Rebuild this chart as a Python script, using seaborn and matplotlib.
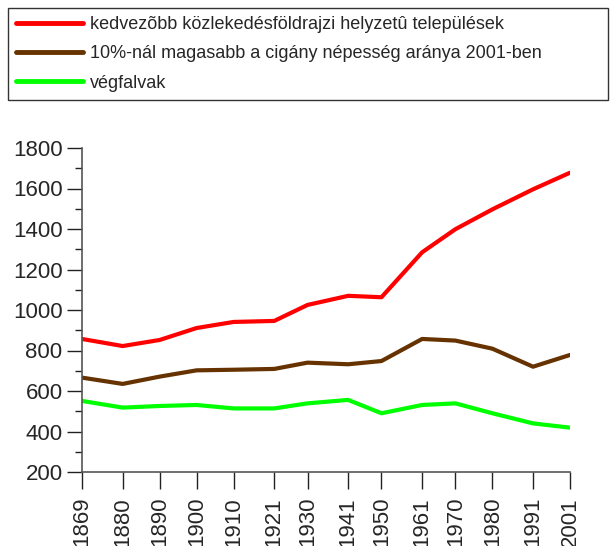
import matplotlib
matplotlib.use("Agg")
import matplotlib.pyplot as plt
from matplotlib.ticker import MultipleLocator
import seaborn as sns
import pandas as pd

sns.set_theme(style="white")
plt.rcParams['font.family'] = ['Liberation Sans', 'DejaVu Sans']

years = [1869, 1880, 1890, 1900, 1910, 1921, 1930, 1941, 1950, 1961, 1970, 1980, 1991, 2001]
kedvezobb = [857, 822, 852, 911, 941, 946, 1025, 1070, 1063, 1285, 1399, 1497, 1596, 1678]
cigany = [666, 635, 671, 702, 705, 709, 740, 732, 748, 857, 849, 809, 720, 778]
vegfalvak = [551, 518, 526, 531, 514, 514, 539, 556, 490, 531, 539, 490, 440, 419]

labels = ['kedvezõbb közlekedésföldrajzi helyzetû települések',
          '10%-nál magasabb a cigány népesség aránya 2001-ben',
          'végfalvak']
colors = ['#ff0000', '#663300', '#00ff00']

df = pd.DataFrame({'Év': years * 3,
                   'Érték': kedvezobb + cigany + vegfalvak,
                   'Csoport': [labels[0]] * len(years) + [labels[1]] * len(years) + [labels[2]] * len(years)})

fig = plt.figure(figsize=(6.11, 5.46), dpi=100)
ax = fig.add_axes([82 / 611, 1 - 472 / 546, 488 / 611, 324 / 546])

sns.lineplot(data=df, x='Év', y='Érték', hue='Csoport', palette=colors,
             linewidth=3, ax=ax, legend=False)

ax.set_xlim(1869, 2001)
ax.set_ylim(200, 1800)
ax.set_xticks(years)
ax.set_xticklabels([str(y) for y in years], rotation=90, fontsize=16)
ax.yaxis.set_major_locator(MultipleLocator(200))
ax.yaxis.set_minor_locator(MultipleLocator(100))
ax.tick_params(axis='y', which='major', length=11, width=1, color='#222222', labelsize=16, left=True, pad=3)
ax.tick_params(axis='y', which='minor', length=5, width=1, color='#222222', left=True)
ax.tick_params(axis='x', which='major', length=12, width=1, color='#222222', bottom=True, pad=6)
ax.set_xlabel('')
ax.set_ylabel('')
for s in ['top', 'right']:
    ax.spines[s].set_visible(False)
for s in ['left', 'bottom']:
    ax.spines[s].set_color('#555555')
    ax.spines[s].set_linewidth(1.2)

handles = [plt.Line2D([], [], color=c, linewidth=3.5) for c in colors]
leg = fig.legend(handles, labels, loc='upper left',
                 bbox_to_anchor=(8 / 611, 1 - 100 / 546, 600 / 611, 92 / 546),
                 mode='expand', fontsize=13, frameon=True, fancybox=False,
                 handlelength=3.7, handletextpad=0.4, borderaxespad=0,
                 labelspacing=0.68, borderpad=0.45)
leg.get_frame().set_edgecolor('black')
leg.get_frame().set_linewidth(1)

fig.savefig('out.png', dpi=100)
